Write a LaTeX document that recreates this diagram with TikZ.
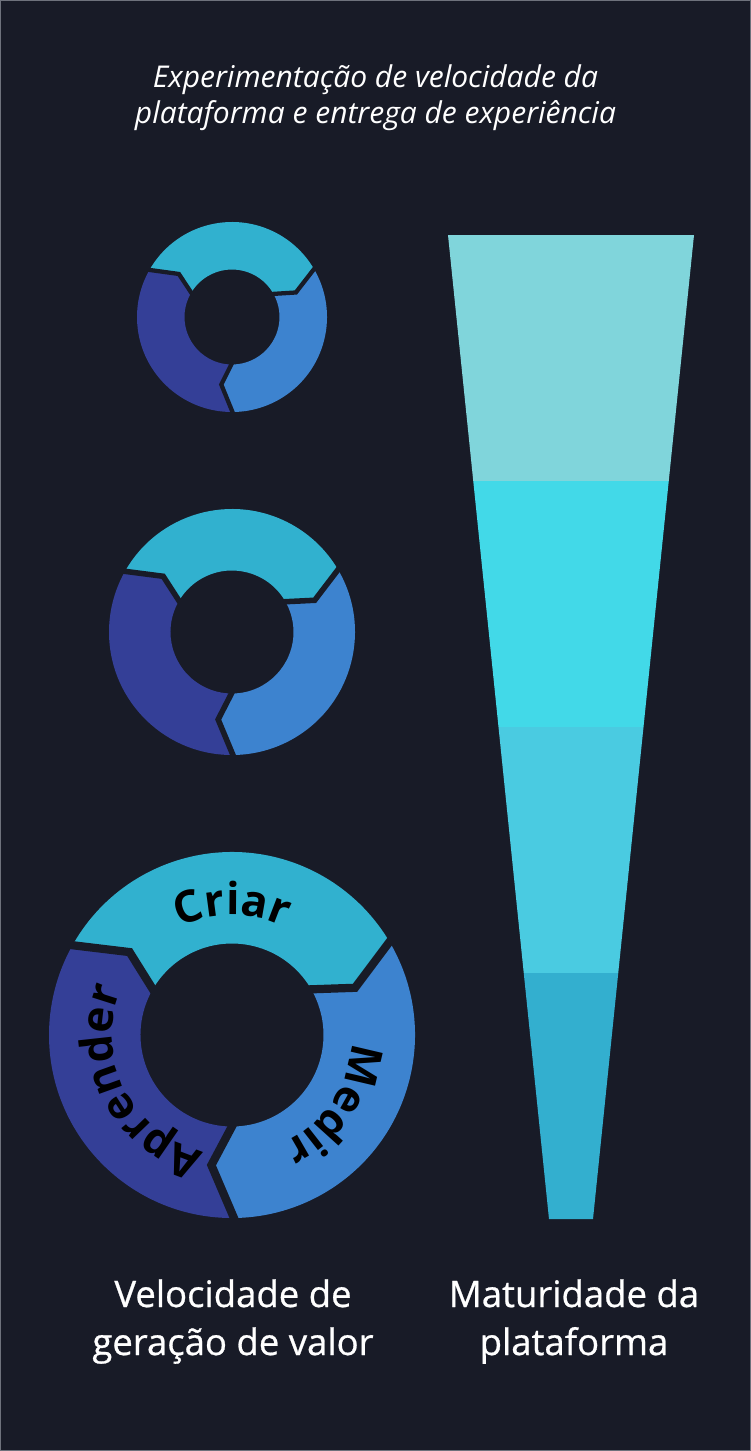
\documentclass[tikz,border=0pt]{standalone}
\usepackage{fontspec}
\setmainfont{Open Sans}
\newfontfamily\captionfont{Open Sans}[FakeBold=0.7]
\usepackage{tikz}
\usetikzlibrary{calc,decorations.text}
\definecolor{vlbg}{HTML}{181B27}
\definecolor{vlframe}{HTML}{6E727C}
\definecolor{vlcriar}{HTML}{31B1CF}
\definecolor{vlmedir}{HTML}{3D83CF}
\definecolor{vlaprender}{HTML}{343F97}
\definecolor{vlbandone}{HTML}{80D5DB}
\definecolor{vlbandtwo}{HTML}{42D9E8}
\definecolor{vlbandthree}{HTML}{4ACBE1}
\definecolor{vlbandfour}{HTML}{33AFCF}
\tikzset{
  cut/.style={draw=vlbg,line join=miter},
  ringtext/.style={decorate,decoration={text along path,text align=center,
    text color=black,text={|\fontsize{44}{44}\selectfont\bfseries|#1}}},
  caption/.style={text=white,align=center,font=\captionfont\fontsize{36.5}{48}\selectfont},
  heading/.style={text=white,align=center,font=\itshape\fontsize{30}{36}\selectfont}
}
\begin{document}
\begin{tikzpicture}[x=1pt,y=1pt]
  \useasboundingbox (0,0) rectangle (751,-1451);
  \fill[vlbg,draw=vlframe,line width=1pt] (0.5,-0.5) rectangle (750.5,-1450.5);
  \node[heading,anchor=base] (title) at (375.5,-123)
    {Experimentação de velocidade da\\plataforma e entrega de experiência};
  % ciclos
  \foreach \cy/\R in {317/95,632/123,1035/183}{
    \begin{scope}[shift={(232,-\cy)}]
      \pgfmathsetmacro\ri{\R/2}
      \pgfmathsetmacro\rmid{0.72*\R}
      \fill[vlcriar] (151:\R) arc[start angle=151,end angle=31,radius=\R] -- (21:\rmid)
        -- (31:\ri) arc[start angle=31,end angle=151,radius=\ri] -- (141:\rmid) -- cycle;
      \fill[vlmedir] (31:\R) arc[start angle=31,end angle=-89,radius=\R] -- (-99:\rmid)
        -- (-89:\ri) arc[start angle=-89,end angle=31,radius=\ri] -- (21:\rmid) -- cycle;
      \fill[vlaprender] (271:\R) arc[start angle=271,end angle=151,radius=\R] -- (141:\rmid)
        -- (151:\ri) arc[start angle=151,end angle=271,radius=\ri] -- (261:\rmid) -- cycle;
      \foreach \a in {151,31,271}
        \draw[cut,line width={0.045*\R}] (\a:{\R+3}) -- ({\a-10}:\rmid) -- (\a:{\ri-3});
    \end{scope}
  }
  \coordinate (big) at (232,-1035);
  \path[ringtext=Criar] ($(big)+(130:120)$) arc[start angle=130,end angle=50,radius=120];
  \path[ringtext=Medir] ($(big)+(11:120)$) arc[start angle=11,end angle=-79,radius=120];
  \path[ringtext=Aprender] ($(big)+(257:120)$) arc[start angle=257,end angle=157,radius=120];
  % funil
  \coordinate (tl) at (448,-235);
  \coordinate (tr) at (694,-235);
  \coordinate (bl) at (549,-1219);
  \coordinate (br) at (593,-1219);
  \foreach \k/\col in {0/vlbandone,1/vlbandtwo,2/vlbandthree,3/vlbandfour}
    \fill[\col] ($(tl)!{\k/4}!(bl)$) -- ($(tr)!{\k/4}!(br)$)
      -- ($(tr)!{(\k+1)/4}!(br)$) -- ($(tl)!{(\k+1)/4}!(bl)$) -- cycle;
  \node[caption,anchor=base] (velocidade) at (233,-1355) {Velocidade de\\geração de valor};
  \node[caption,anchor=base] (maturidade) at (574,-1355) {Maturidade da\\plataforma};
\end{tikzpicture}
\end{document}
